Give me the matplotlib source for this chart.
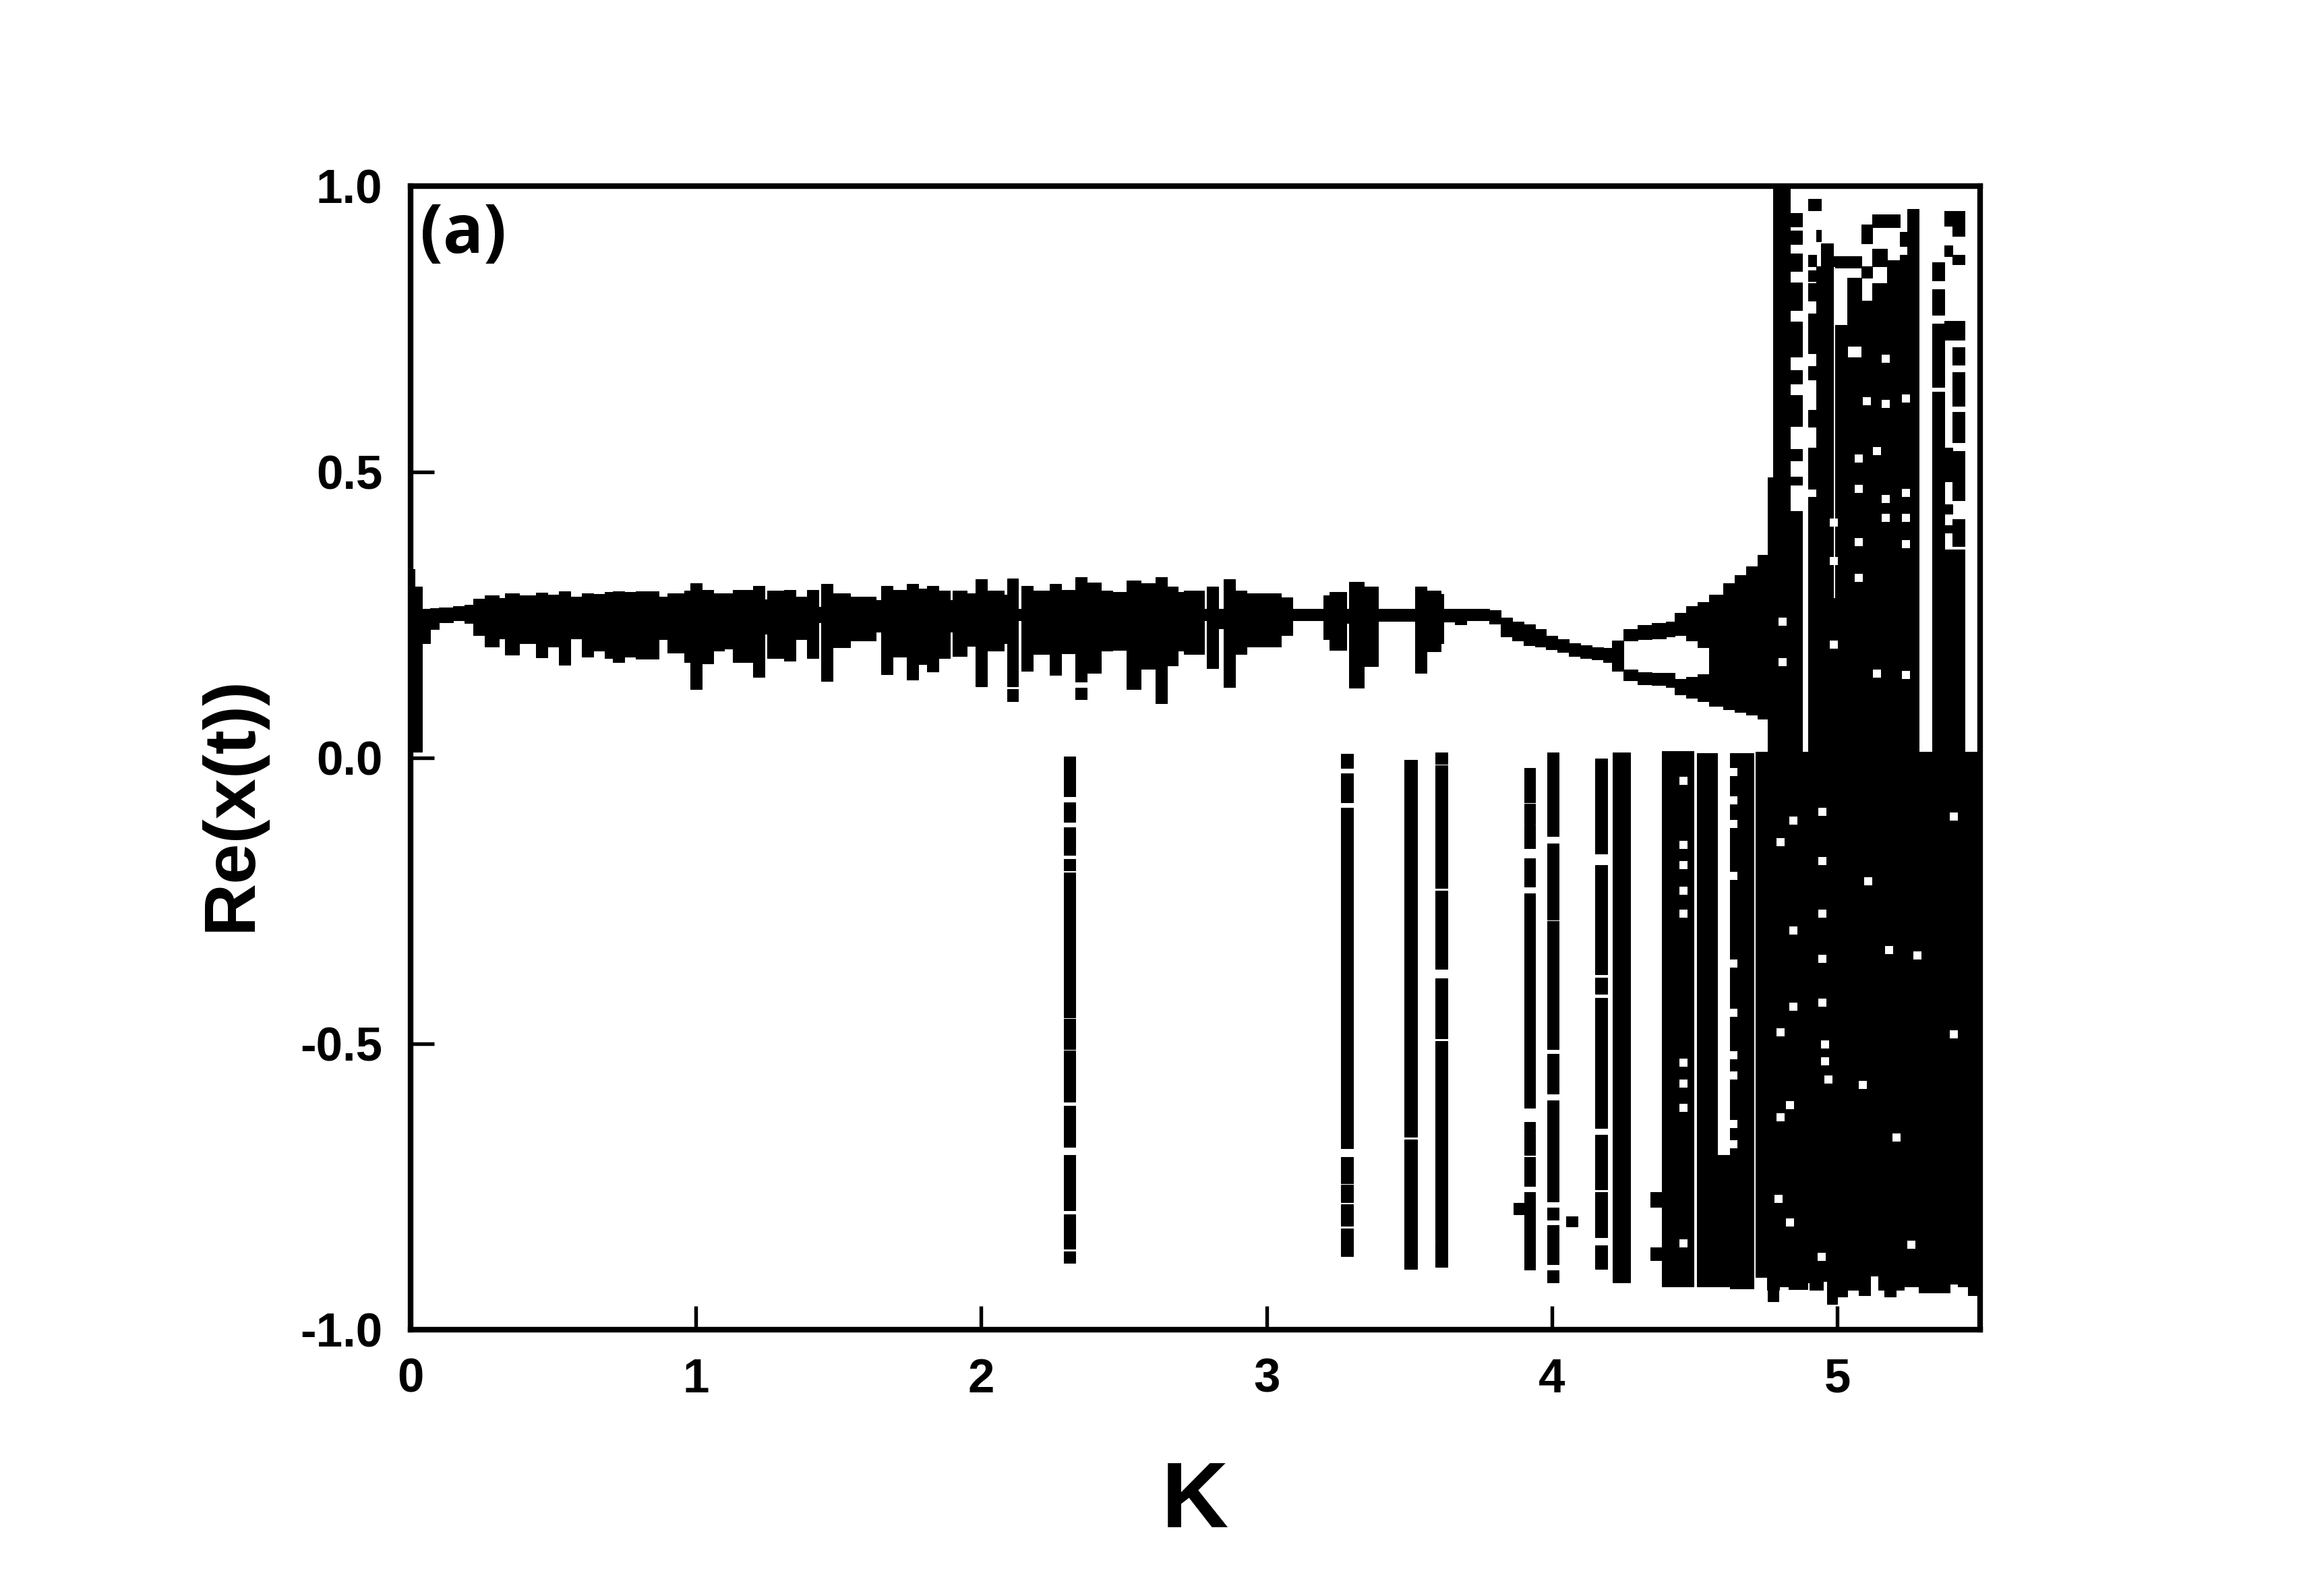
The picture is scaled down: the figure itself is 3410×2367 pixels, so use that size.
import numpy as np
import matplotlib
matplotlib.use("Agg")
import matplotlib.pyplot as plt

plt.rcParams['font.family'] = ['Liberation Sans', 'DejaVu Sans']
plt.rcParams['font.weight'] = 'bold'
plt.rcParams['axes.unicode_minus'] = False

# --- Data: every block is (K start, K end, y low, y high) ---
# main band around Re(x) ~ 0.25
band_segments = [
    (0.00, 0.015, 0.01, 0.33), (0.015, 0.04, 0.01, 0.30),
    (0.04, 0.07, 0.20, 0.26), (0.07, 0.10, 0.225, 0.262), (0.10, 0.15, 0.237, 0.263),
    (0.15, 0.19, 0.240, 0.265), (0.19, 0.22, 0.236, 0.268), (0.22, 0.26, 0.215, 0.278),
    (0.26, 0.31, 0.195, 0.284), (0.31, 0.33, 0.209, 0.280), (0.33, 0.38, 0.180, 0.288),
    (0.38, 0.44, 0.201, 0.284), (0.44, 0.48, 0.176, 0.289), (0.48, 0.52, 0.195, 0.285),
    (0.52, 0.56, 0.163, 0.291), (0.56, 0.60, 0.209, 0.282), (0.60, 0.64, 0.177, 0.288),
    (0.64, 0.68, 0.187, 0.287), (0.68, 0.71, 0.175, 0.290), (0.71, 0.75, 0.168, 0.291),
    (0.75, 0.79, 0.177, 0.290), (0.79, 0.87, 0.173, 0.291), (0.87, 0.90, 0.207, 0.282),
    (0.90, 0.96, 0.184, 0.288), (0.96, 0.98, 0.168, 0.292), (0.98, 1.02, 0.120, 0.305),
    (1.02, 1.06, 0.165, 0.294), (1.06, 1.10, 0.187, 0.288), (1.10, 1.13, 0.191, 0.288),
    (1.13, 1.20, 0.167, 0.294), (1.20, 1.24, 0.142, 0.301), (1.24, 1.25, 0.217, 0.277),
    (1.25, 1.31, 0.175, 0.292), (1.31, 1.35, 0.170, 0.294), (1.35, 1.39, 0.208, 0.282),
    (1.39, 1.43, 0.174, 0.294), (1.43, 1.44, 0.237, 0.264), (1.44, 1.48, 0.134, 0.304),
    (1.48, 1.54, 0.193, 0.288), (1.54, 1.63, 0.205, 0.282), (1.63, 1.65, 0.221, 0.276),
    (1.65, 1.69, 0.146, 0.301), (1.69, 1.74, 0.177, 0.294), (1.74, 1.78, 0.137, 0.304),
    (1.78, 1.81, 0.164, 0.296), (1.81, 1.85, 0.151, 0.301), (1.85, 1.89, 0.174, 0.292),
    (1.89, 1.90, 0.221, 0.276), (1.90, 1.95, 0.178, 0.292), (1.95, 1.98, 0.196, 0.288),
    (1.98, 2.02, 0.125, 0.313), (2.02, 2.08, 0.187, 0.292), (2.08, 2.09, 0.200, 0.285),
    (2.09, 2.13, 0.125, 0.314), (2.13, 2.14, 0.240, 0.260), (2.14, 2.18, 0.152, 0.301),
    (2.18, 2.24, 0.181, 0.292), (2.24, 2.28, 0.145, 0.304), (2.28, 2.33, 0.183, 0.294),
    (2.33, 2.37, 0.133, 0.316), (2.37, 2.42, 0.148, 0.307), (2.42, 2.46, 0.187, 0.292),
    (2.46, 2.51, 0.189, 0.290), (2.51, 2.56, 0.120, 0.310), (2.56, 2.61, 0.156, 0.305),
    (2.61, 2.65, 0.096, 0.316), (2.65, 2.69, 0.162, 0.300), (2.69, 2.71, 0.187, 0.290),
    (2.71, 2.78, 0.182, 0.292), (2.78, 2.79, 0.240, 0.260), (2.79, 2.83, 0.157, 0.300),
    (2.83, 2.85, 0.226, 0.260), (2.85, 2.89, 0.124, 0.312), (2.89, 2.93, 0.182, 0.292),
    (2.93, 3.05, 0.195, 0.288), (3.05, 3.09, 0.215, 0.281), (3.09, 3.20, 0.241, 0.260),
    (3.20, 3.22, 0.207, 0.284), (3.22, 3.28, 0.189, 0.290), (3.28, 3.29, 0.236, 0.260),
    (3.29, 3.34, 0.123, 0.308), (3.34, 3.39, 0.160, 0.300), (3.39, 3.52, 0.239, 0.260),
    (3.52, 3.56, 0.149, 0.300), (3.56, 3.61, 0.186, 0.292), (3.61, 3.62, 0.200, 0.286),
    (3.62, 3.66, 0.238, 0.260), (3.66, 3.70, 0.233, 0.260), (3.70, 3.78, 0.240, 0.260),
    (3.78, 3.82, 0.235, 0.258), (3.82, 3.86, 0.212, 0.245), (3.86, 3.90, 0.205, 0.238),
    (3.90, 3.94, 0.197, 0.233), (3.94, 3.98, 0.195, 0.225), (3.98, 4.02, 0.190, 0.213),
    (4.02, 4.06, 0.185, 0.207), (4.06, 4.10, 0.178, 0.201), (4.10, 4.14, 0.175, 0.197),
    (4.14, 4.18, 0.172, 0.193), (4.18, 4.21, 0.168, 0.192), (4.21, 4.25, 0.152, 0.205),
]

# period-2 branches and their merge
branch_segments = [
    (4.25, 4.30, 0.205, 0.225), (4.25, 4.30, 0.135, 0.154),
    (4.30, 4.35, 0.208, 0.232), (4.30, 4.35, 0.128, 0.150),
    (4.35, 4.40, 0.209, 0.236), (4.35, 4.40, 0.127, 0.148),
    (4.40, 4.43, 0.212, 0.238), (4.40, 4.43, 0.124, 0.148),
    (4.43, 4.47, 0.215, 0.254), (4.43, 4.47, 0.111, 0.138),
    (4.47, 4.51, 0.205, 0.265), (4.47, 4.51, 0.105, 0.142),
    (4.51, 4.55, 0.193, 0.272), (4.51, 4.55, 0.099, 0.146),
    (4.55, 4.60, 0.091, 0.285), (4.60, 4.64, 0.085, 0.305),
    (4.64, 4.68, 0.080, 0.320), (4.68, 4.72, 0.075, 0.335),
    (4.72, 4.76, 0.068, 0.355),
]

isolated_squares = [
    (2.09, 2.13, 0.099, 0.120), (2.33, 2.37, 0.103, 0.123),
    (3.865, 3.903, -0.798, -0.778), (4.05, 4.09, -0.820, -0.802),
    (4.345, 4.386, -0.785, -0.759), (4.345, 4.386, -0.879, -0.856),
    (4.755, 4.794, -0.950, -0.931),
]

# negative stripes between K = 2.3 and 4.7
stripe_segments = [
    (2.29, 2.33, -0.067, 0.002), (2.29, 2.33, -0.112, -0.078), (2.29, 2.33, -0.170, -0.122),
    (2.29, 2.33, -0.197, -0.177), (2.29, 2.33, -0.454, -0.201), (2.29, 2.33, -0.509, -0.457),
    (2.29, 2.33, -0.601, -0.512), (2.29, 2.33, -0.680, -0.608), (2.29, 2.33, -0.791, -0.695),
    (2.29, 2.33, -0.859, -0.798), (2.29, 2.33, -0.883, -0.863),
    (3.261, 3.302, -0.018, 0.007), (3.261, 3.302, -0.078, -0.027), (3.261, 3.302, -0.683, -0.087),
    (3.261, 3.302, -0.744, -0.698), (3.261, 3.302, -0.777, -0.746), (3.261, 3.302, -0.819, -0.781),
    (3.261, 3.302, -0.871, -0.823),
    (3.483, 3.527, -0.663, -0.003), (3.483, 3.527, -0.894, -0.668),
    (3.592, 3.633, -0.0105, 0.0098), (3.592, 3.633, -0.228, -0.0127), (3.592, 3.633, -0.369, -0.232),
    (3.592, 3.633, -0.491, -0.386), (3.592, 3.633, -0.844, -0.495), (3.592, 3.633, -0.890, -0.846),
    (3.903, 3.942, -0.078, -0.018), (3.903, 3.942, -0.116, -0.080), (3.903, 3.942, -0.158, -0.117),
    (3.903, 3.942, -0.225, -0.176), (3.903, 3.942, -0.612, -0.237), (3.903, 3.942, -0.656, -0.637),
    (3.903, 3.942, -0.695, -0.657), (3.903, 3.942, -0.749, -0.698), (3.903, 3.942, -0.895, -0.759),
    (3.983, 4.024, -0.137, 0.0098), (3.983, 4.024, -0.283, -0.150), (3.983, 4.024, -0.509, -0.285),
    (3.983, 4.024, -0.587, -0.518), (3.983, 4.024, -0.776, -0.599), (3.983, 4.024, -0.808, -0.787),
    (3.983, 4.024, -0.886, -0.817), (3.983, 4.024, -0.917, -0.896),
    (4.152, 4.193, -0.167, -0.0014), (4.152, 4.193, -0.379, -0.187), (4.152, 4.193, -0.413, -0.384),
    (4.152, 4.193, -0.648, -0.420), (4.152, 4.193, -0.755, -0.659), (4.152, 4.193, -0.839, -0.759),
    (4.152, 4.193, -0.894, -0.853),
    (4.212, 4.273, -0.917, 0.0098),
    (4.386, 4.497, -0.924, 0.012),
    (4.507, 4.580, -0.924, 0.008),
    (4.580, 4.623, -0.924, -0.695),
    (4.623, 4.707, -0.928, 0.008),
]

# chaotic region: negative part filled from y = 0 down to a ragged floor
floor_k0 = [4.713, 4.753, 4.796, 4.830, 4.895, 4.902, 4.950, 4.964, 5.000, 5.036, 5.075,
            5.115, 5.143, 5.166, 5.206, 5.233, 5.285, 5.395, 5.423, 5.458]
floor_k1 = [4.753, 4.796, 4.830, 4.895, 4.902, 4.950, 4.964, 5.000, 5.036, 5.075, 5.115,
            5.143, 5.166, 5.206, 5.233, 5.285, 5.395, 5.423, 5.458, 5.500]
floor_lo = [-0.908, -0.931, -0.925, -0.929, -0.918, -0.931, -0.915, -0.955, -0.942, -0.930,
            -0.940, -0.906, -0.930, -0.942, -0.930, -0.925, -0.935, -0.920, -0.925, -0.940]

# chaotic region: positive part
chaos_upper = [
    (4.755, 4.775, 0.0, 0.49), (4.775, 4.835, 0.0, 1.0),
    (4.835, 4.877, 0.0, 0.431), (4.835, 4.877, 0.478, 0.492), (4.835, 4.877, 0.52, 0.54),
    (4.835, 4.877, 0.58, 0.634), (4.835, 4.877, 0.654, 0.678), (4.835, 4.877, 0.702, 0.763),
    (4.835, 4.877, 0.783, 0.831), (4.835, 4.877, 0.851, 0.882), (4.835, 4.877, 0.899, 0.922),
    (4.835, 4.877, 0.929, 0.953),
    (4.898, 4.926, 0.0, 0.456), (4.898, 4.926, 0.47, 0.542), (4.898, 4.926, 0.579, 0.609),
    (4.898, 4.926, 0.662, 0.685), (4.898, 4.926, 0.708, 0.777), (4.898, 4.926, 0.80, 0.83),
    (4.898, 4.926, 0.834, 0.853), (4.898, 4.926, 0.86, 0.88), (4.898, 4.926, 0.958, 0.978),
    (4.926, 4.942, 0.0, 0.86), (4.926, 4.942, 0.903, 0.923), (4.926, 4.942, 0.958, 0.978),
    (4.942, 4.985, 0.0, 0.90),
    (4.985, 4.993, 0.0, 0.28), (4.985, 4.993, 0.86, 0.877),
    (4.993, 5.036, 0.0, 0.757), (4.993, 5.036, 0.857, 0.877),
    (5.036, 5.084, 0.0, 0.70), (5.036, 5.084, 0.72, 0.84), (5.036, 5.084, 0.857, 0.877),
    (5.084, 5.123, 0.0, 0.80), (5.084, 5.123, 0.84, 0.86), (5.084, 5.123, 0.90, 0.933),
    (5.123, 5.175, 0.0, 0.83), (5.123, 5.175, 0.86, 0.89), (5.123, 5.175, 0.928, 0.95),
    (5.175, 5.218, 0.0, 0.87), (5.175, 5.218, 0.928, 0.95),
    (5.218, 5.245, 0.0, 0.88), (5.218, 5.245, 0.895, 0.92),
    (5.245, 5.285, 0.0, 0.96),
    (5.332, 5.375, 0.0, 0.64), (5.332, 5.375, 0.648, 0.76), (5.332, 5.375, 0.775, 0.82),
    (5.332, 5.375, 0.835, 0.867),
    (5.375, 5.403, 0.0, 0.364), (5.375, 5.403, 0.394, 0.407), (5.375, 5.403, 0.427, 0.443),
    (5.375, 5.403, 0.483, 0.542), (5.375, 5.403, 0.731, 0.764), (5.375, 5.403, 0.877, 0.896),
    (5.375, 5.403, 0.93, 0.956),
    (5.403, 5.446, 0.0, 0.364), (5.403, 5.446, 0.37, 0.417), (5.403, 5.446, 0.45, 0.536),
    (5.403, 5.446, 0.552, 0.605), (5.403, 5.446, 0.615, 0.675), (5.403, 5.446, 0.688, 0.718),
    (5.403, 5.446, 0.731, 0.764), (5.403, 5.446, 0.863, 0.88), (5.403, 5.446, 0.913, 0.956),
]

# white holes inside the filled areas
speck_k = [4.847, 4.80, 4.947, 4.947, 5.109, 4.947, 4.847, 4.947, 5.181, 5.281, 4.847, 4.947,
           4.80, 4.958, 4.958, 4.968, 5.089, 4.835, 4.80, 5.208, 4.794, 4.835, 5.26, 4.944,
           5.409, 5.409,
           5.074, 5.074, 5.074, 5.074, 5.169, 5.169, 5.169, 5.169, 4.988, 4.988, 4.988,
           5.24, 5.24, 5.24, 5.24, 5.24, 5.139, 5.139, 5.104, 4.808, 4.808,
           4.46, 4.46, 4.46, 4.46, 4.46, 4.46, 4.46, 4.46, 4.46,
           4.635, 4.635, 4.635, 4.635, 4.635, 4.635, 4.635, 4.635, 4.635, 4.635]
speck_y = [-0.11, -0.147, -0.094, -0.18, -0.216, -0.273, -0.302, -0.352, -0.336, -0.345, -0.435, -0.428,
           -0.48, -0.501, -0.531, -0.563, -0.572, -0.607, -0.629, -0.664, -0.771, -0.812, -0.852, -0.873,
           -0.103, -0.483,
           0.524, 0.47, 0.377, 0.315, 0.698, 0.619, 0.453, 0.42, 0.411, 0.344, 0.198,
           0.628, 0.463, 0.42, 0.374, 0.145, 0.537, 0.147, 0.624, 0.238, 0.168,
           -0.04, -0.152, -0.187, -0.232, -0.272, -0.533, -0.57, -0.612, -0.849,
           -0.025, -0.074, -0.116, -0.206, -0.36, -0.446, -0.52, -0.556, -0.64, -0.676]

x_ticks = [0, 1, 2, 3, 4, 5]
y_ticks = [-1.0, -0.5, 0.0, 0.5, 1.0]
y_ticklabels = ['-1.0', '-0.5', '0.0', '0.5', '1.0']


def draw_blocks(ax, segs):
    arr = np.array(segs, dtype=float)
    k0, k1, lo, hi = arr[:, 0], arr[:, 1], arr[:, 2], arr[:, 3]
    ax.bar(k0, hi - lo, bottom=lo, width=k1 - k0, align='edge',
           color='black', edgecolor='black', linewidth=0.25, zorder=2)


fig = plt.figure(figsize=(3411 / 300, 2367 / 300), dpi=300)
ax = fig.add_axes([0.1785, 0.1669, 0.6825, 0.7165])

draw_blocks(ax, band_segments)
draw_blocks(ax, branch_segments)
draw_blocks(ax, isolated_squares)
draw_blocks(ax, stripe_segments)
draw_blocks(ax, chaos_upper)
floor = [(a, b, c, 0.01) for a, b, c in zip(floor_k0, floor_k1, floor_lo)]
draw_blocks(ax, floor)
ax.scatter(speck_k, speck_y, marker='s', s=7, color='white', linewidths=0, zorder=3)

ax.set_xlim(0, 5.5)
ax.set_ylim(-1.0, 1.0)
ax.set_xticks(x_ticks)
ax.set_yticks(y_ticks)
ax.set_yticklabels(y_ticklabels)
ax.tick_params(direction='in', length=8.5, width=1.3, labelsize=17, pad=10,
               top=False, right=False)
for s in ax.spines.values():
    s.set_linewidth(2.0)

ax.set_xlabel('K', fontsize=33, fontweight='bold', va='center')
ax.xaxis.set_label_coords(0.5, -0.152)
ax.set_ylabel('Re(x(t))', fontsize=26, fontweight='bold', va='center')
ax.yaxis.set_label_coords(-0.114, 0.46)

ax.text(0.006, 0.987, '(a)', transform=ax.transAxes, ha='left', va='top',
        fontsize=24, fontweight='bold', family=['Open Sans', 'DejaVu Sans'])

fig.savefig('out.png', dpi=300)
